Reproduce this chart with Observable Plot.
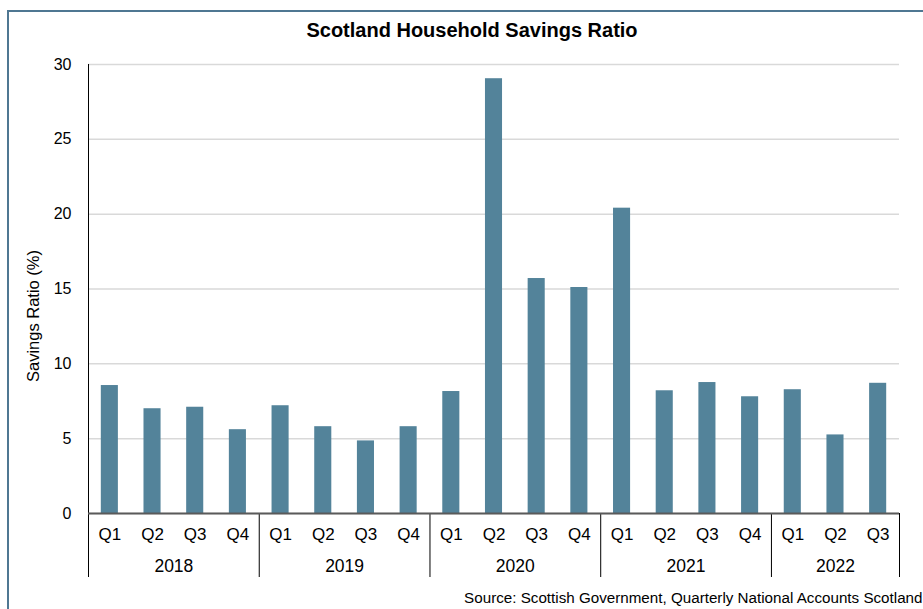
<!DOCTYPE html>
<html><head><meta charset="utf-8">
<script src="https://cdn.jsdelivr.net/npm/d3@7"></script>
<script src="https://cdn.jsdelivr.net/npm/@observablehq/plot@0.6"></script>
<style>
body{margin:0;background:#fff;font-family:"Liberation Sans",Arial,sans-serif;}
#wrap{position:relative;width:923px;height:609px;overflow:hidden;background:#fff;}
#frame{position:absolute;left:7px;top:10px;width:1000px;height:700px;border-left:2px solid #4f7792;border-top:2px solid #4f7792;}
#chart{position:absolute;left:0;top:0;}
</style></head><body><div id="wrap"><div id="frame"></div><div id="chart"></div></div>
<script>
const quarters = ["Q1","Q2","Q3","Q4","Q1","Q2","Q3","Q4","Q1","Q2","Q3","Q4","Q1","Q2","Q3","Q4","Q1","Q2","Q3"];
const years = [2018,2018,2018,2018,2019,2019,2019,2019,2020,2020,2020,2020,2021,2021,2021,2021,2022,2022,2022];
const ratios = [8.55,7.0,7.1,5.6,7.2,5.8,4.85,5.8,8.15,29.05,15.7,15.1,20.4,8.2,8.75,7.8,8.27,5.25,8.7];
const yTicks = [0,5,10,15,20,25,30];
const title = "Scotland Household Savings Ratio";
const yLabel = "Savings Ratio (%)";
const source = "Source: Scottish Government, Quarterly National Accounts Scotland";

const data = ratios.map((v, i) => ({i, q: quarters[i], year: years[i], v}));
const groups = d3.groups(data, d => d.year).map(([year, rows]) => ({
  year,
  start: rows[0].i - 0.5,
  end: rows[rows.length - 1].i + 0.5,
  mid: (rows[0].i + rows[rows.length - 1].i) / 2
}));
const bounds = [groups[0].start, ...groups.map(g => g.end)];

const chart = Plot.plot({
  width: 923,
  height: 609,
  marginLeft: 88,
  marginRight: 24,
  marginTop: 64,
  marginBottom: 96,
  style: {background: "transparent", fontFamily: "'Liberation Sans', Arial, sans-serif", color: "#000"},
  x: {type: "linear", domain: [-0.5, ratios.length - 0.5], axis: null},
  y: {domain: [0, 30], axis: null},
  marks: [
    Plot.gridY(yTicks, {stroke: "#d9d9d9", strokeOpacity: 1, strokeWidth: 1.5}),
    Plot.rectY(data, {x1: d => d.i - 0.2, x2: d => d.i + 0.2, y: "v", fill: "#53839a"}),
    Plot.ruleX([bounds[0]], {y1: 0, y2: 30, stroke: "#000", strokeWidth: 1}),
    Plot.ruleX(bounds, {y1: 0, y2: 0, insetBottom: -64, stroke: "#000", strokeWidth: 1}),
    Plot.ruleY([0], {stroke: "#5a5a5a", strokeWidth: 2}),
    Plot.axisY(yTicks, {tickSize: 0, tickPadding: 17, fontSize: 16, label: null}),
    Plot.axisX(data.map(d => d.i), {tickSize: 0, tickPadding: 14, fontSize: 17, label: null, tickFormat: i => quarters[i]}),
    Plot.text(groups, {x: "mid", text: d => String(d.year), frameAnchor: "bottom", lineAnchor: "middle", dy: 53, fontSize: 17.5}),
    Plot.text([title], {frameAnchor: "top", lineAnchor: "middle", dx: -22, dy: -34, fontSize: 20, fontWeight: "bold"}),
    Plot.text([yLabel], {frameAnchor: "left", textAnchor: "middle", lineAnchor: "middle", rotate: -90, dx: -55, dy: 27, fontSize: 16.5}),
    Plot.text([source], {frameAnchor: "bottom-right", textAnchor: "end", lineAnchor: "middle", dx: 23, dy: 85, fontSize: 15.2})
  ]
});
document.getElementById("chart").appendChild(chart);
</script></body></html>
